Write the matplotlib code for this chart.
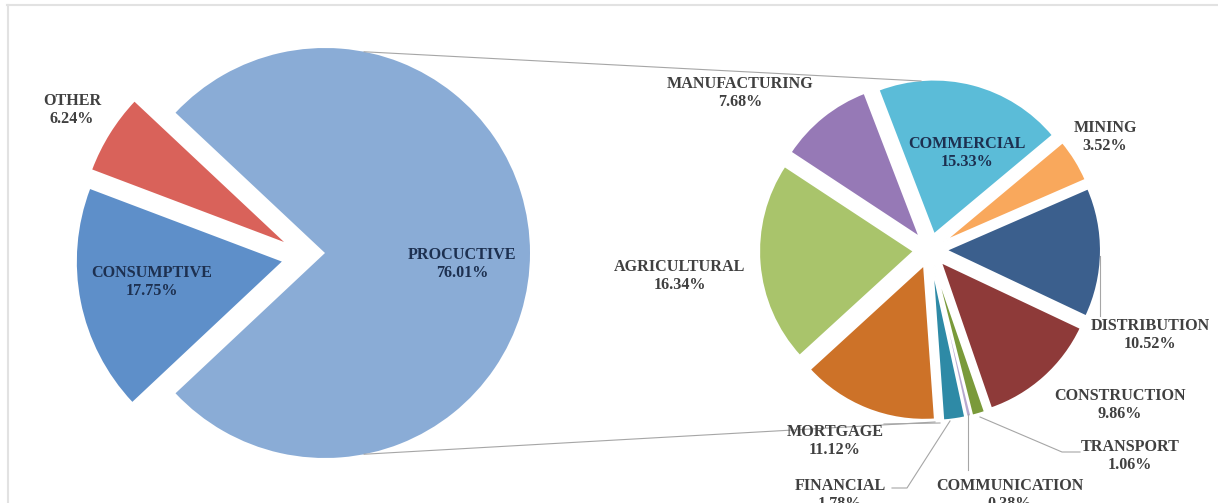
import matplotlib.pyplot as plt
import numpy as np

# main split of the loan book
main_labels = ['PROCUCTIVE', 'CONSUMPTIVE', 'OTHER']
main_values = [76.01, 17.75, 6.24]
main_colors = ['#8aacd6', '#5e8fc9', '#d9625a']

# breakdown of the productive part, clockwise from the top
sub_labels = ['COMMERCIAL', 'MINING', 'DISTRIBUTION', 'CONSTRUCTION', 'TRANSPORT',
              'COMMUNICATION', 'FINANCIAL', 'MORTGAGE', 'AGRICULTURAL', 'MANUFACTURING']
sub_values = [15.33, 3.52, 10.52, 9.86, 1.06, 0.38, 1.78, 11.12, 16.34, 7.68]
sub_colors = ['#5bbcd8', '#f9a85c', '#3b5f8d', '#8e3a39', '#7a9a3a',
              '#b7a9cf', '#2e8aa6', '#cd7228', '#a9c46b', '#9679b6']

W, H = 1218, 503
fig = plt.figure(figsize=(W / 100, H / 100), dpi=100)
ax = fig.add_axes([0, 0, 1, 1])

def py(y):
    # pixel rows count from the top
    return H - y

c1 = (325, py(253))
r1 = 205
c2 = (930, py(250))
r2 = 155

# explode is in data units here (pixels), not a fraction of the radius
wedges, _ = ax.pie(main_values, colors=main_colors, center=c1, radius=r1,
                   startangle=180 * main_values[0] / sum(main_values), counterclock=False,
                   explode=[0, 44, 0], wedgeprops=dict(linewidth=0))
# the OTHER slice sits a little lower than a straight bisector pull-out
wedges[2].set_center((c1[0] - 41, c1[1] + 11))

ax.pie(sub_values, colors=sub_colors, center=c2, radius=r2,
       startangle=111, counterclock=False,
       explode=[16] * len(sub_values),
       wedgeprops=dict(linewidth=1.5, edgecolor='white'))

# connector lines between the two pies
lc = '#a6a6a6'
a = np.radians(79)
ax.plot([c1[0] + r1 * np.cos(a), 921], [c1[1] + r1 * np.sin(a), py(81)], color=lc, lw=0.8)
ax.plot([c1[0] + r1 * np.cos(a), 935], [c1[1] - r1 * np.sin(a), py(422)], color=lc, lw=0.8)

# leader lines for the small slices
ax.plot([884, 940], [py(424), py(423)], color=lc, lw=0.8)
ax.plot([892, 907, 950], [py(488), py(488), py(421)], color=lc, lw=0.8)
ax.plot([968, 968], [py(470), py(414)], color=lc, lw=0.8)
ax.plot([1080, 1062, 980], [py(452), py(452), py(417)], color=lc, lw=0.8)
ax.plot([1100, 1100], [py(256), py(316)], color=lc, lw=0.8)

font = dict(family='Liberation Serif', fontweight='bold', fontsize=11.6,
            ha='center', va='center', linespacing=1.2)
inside = '#1d3050'
outside = '#404040'

label_pos = {
    'PROCUCTIVE': (462, 264, inside),
    'CONSUMPTIVE': (152, 282, inside),
    'OTHER': (72, 110, outside),
    'COMMERCIAL': (967, 153, inside),
    'MINING': (1105, 137, outside),
    'DISTRIBUTION': (1150, 335, outside),
    'CONSTRUCTION': (1120, 405, outside),
    'TRANSPORT': (1130, 456, outside),
    'COMMUNICATION': (1010, 495, outside),
    'FINANCIAL': (840, 495, outside),
    'MORTGAGE': (835, 441, outside),
    'AGRICULTURAL': (680, 276, outside),
    'MANUFACTURING': (740, 93, outside),
}

for name, val in list(zip(main_labels, main_values)) + list(zip(sub_labels, sub_values)):
    x, y, col = label_pos[name]
    ax.text(x, py(y), f'{name}\n{val:.2f}%', color=col, **font)

# chart area border
ax.plot([7, W], [py(5), py(5)], color='#e2e2e2', lw=1.5)
ax.plot([7.5, 7.5], [py(5), 0], color='#e2e2e2', lw=1.5)

ax.set_xlim(0, W)
ax.set_ylim(0, H)
ax.set_aspect('equal')
ax.axis('off')

fig.savefig('out.png', dpi=100, facecolor='white')
